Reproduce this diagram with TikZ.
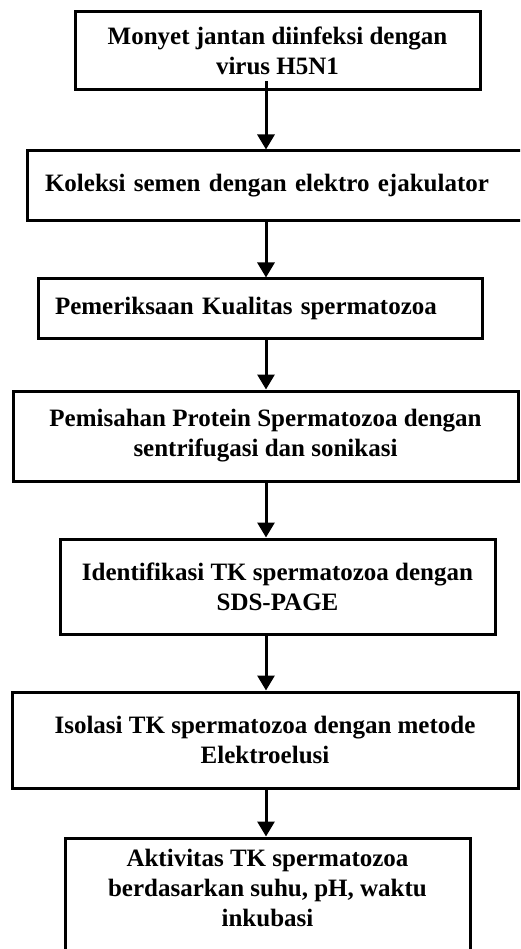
\documentclass[tikz,border=0pt]{standalone}
\usepackage{fontspec}
\setmainfont{Liberation Serif}
\usetikzlibrary{positioning, arrows.meta}
\tikzstyle{arrow} = [line width=3pt, -{Triangle[length=15pt, width=17pt]}]

\begin{document}
\begin{tikzpicture}[
  x=1pt, y=-1pt,
  font=\fontsize{25}{30}\selectfont\bfseries,
  box/.style={draw, line width=3pt, align=center, inner sep=0pt, fill=white},
  leftbox/.style={box, align=left, inner xsep=18pt},
  node distance=55pt
]
  \useasboundingbox (0,0) rectangle (520,949);
  \clip (0,0) rectangle (520,949);

  \node[box, minimum width=405pt, minimum height=78pt] (infeksi) at (277.5,51)
       {Monyet jantan diinfeksi dengan\\virus H5N1};
  \node[leftbox, text width=472pt, minimum height=70pt, below=58pt of infeksi, xshift=3.5pt] (koleksi)
       {Koleksi semen dengan elektro ejakulator};
  \node[leftbox, text width=410pt, inner xsep=17pt, minimum height=59pt, below=of koleksi, xshift=-21pt] (kualitas)
       {Pemeriksaan Kualitas spermatozoa};
  \node[box, minimum width=505pt, minimum height=90pt, below=50pt of kualitas, xshift=5.5pt] (pemisahan)
       {Pemisahan Protein Spermatozoa dengan\\sentrifugasi dan sonikasi};
  \node[box, minimum width=435pt, minimum height=95pt, below=of pemisahan, xshift=12pt] (identifikasi)
       {Identifikasi TK spermatozoa dengan\\SDS-PAGE};
  \node[box, minimum width=506pt, minimum height=96pt, below=of identifikasi, xshift=-12.5pt] (isolasi)
       {Isolasi TK spermatozoa dengan metode\\Elektroelusi};
  \node[box, minimum width=405pt, minimum height=150pt, below=47pt of isolasi, xshift=2.5pt,
        text depth=50pt] (aktivitas)
       {Aktivitas TK spermatozoa\\berdasarkan suhu, pH, waktu\\inkubasi};

  % alur utama
  \coordinate (ax) at (266,0);
  \draw[arrow] ([yshift=10pt]infeksi.south -| ax) -- (koleksi.north -| ax);
  \draw[arrow] (koleksi.south -| ax)      -- (kualitas.north -| ax);
  \draw[arrow] (kualitas.south -| ax)     -- (pemisahan.north -| ax);
  \draw[arrow] (pemisahan.south -| ax)    -- (identifikasi.north -| ax);
  \draw[arrow] (identifikasi.south -| ax) -- (isolasi.north -| ax);
  \draw[arrow] (isolasi.south -| ax)      -- (aktivitas.north -| ax);
\end{tikzpicture}
\end{document}
